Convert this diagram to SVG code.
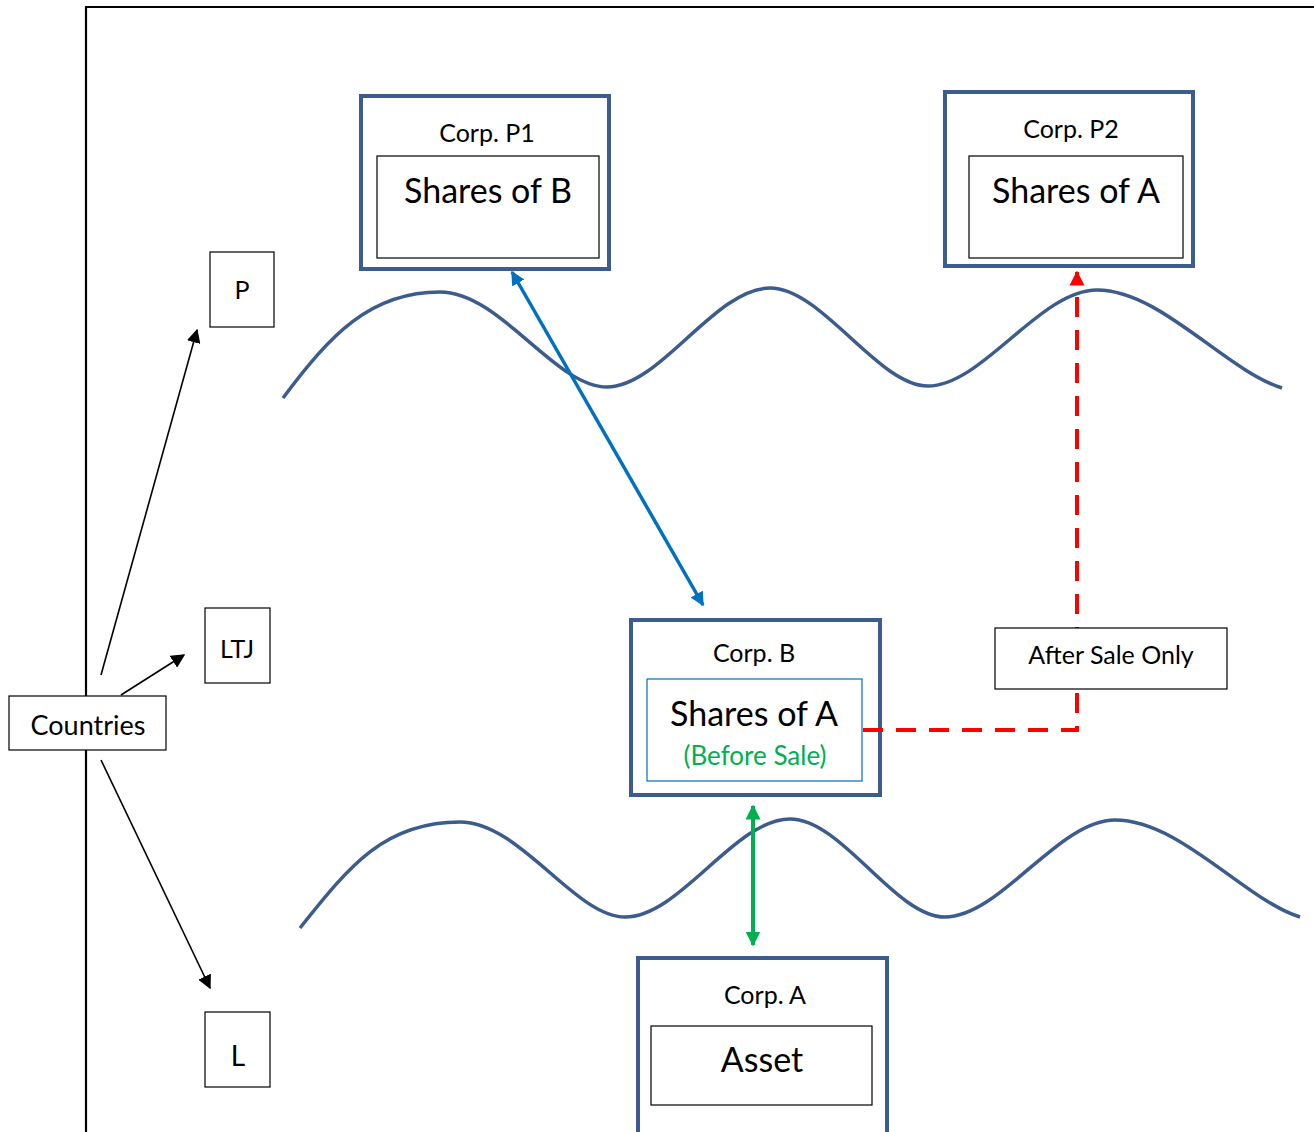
<svg xmlns="http://www.w3.org/2000/svg" width="1314" height="1132" viewBox="0 0 1314 1132">
<defs>
<style>
text{font-family:Lato,"Open Sans","Noto Sans",sans-serif;text-anchor:middle;fill:#000}
.corp{fill:#fff;stroke:#3B5C8C;stroke-width:4}
.inner{fill:#fff;stroke:#000;stroke-width:1.2}
.box{fill:#fff;stroke:#000;stroke-width:1.2}
.wave{fill:none;stroke:#3B5C8C;stroke-width:3.5}
.t22{font-size:25px}
.t32{font-size:34px}
</style>
<marker id="abk" viewBox="0 0 10 10" refX="9" refY="5" markerWidth="14" markerHeight="14" orient="auto-start-reverse" markerUnits="userSpaceOnUse"><path d="M0,0L10,5L0,10z" fill="#000"/></marker>
<marker id="abl" viewBox="0 0 10 10" refX="9" refY="5" markerWidth="14" markerHeight="14" orient="auto-start-reverse" markerUnits="userSpaceOnUse"><path d="M0,0L10,5L0,10z" fill="#0070C0"/></marker>
<marker id="agr" viewBox="0 0 10 10" refX="9" refY="5" markerWidth="15" markerHeight="15" orient="auto-start-reverse" markerUnits="userSpaceOnUse"><path d="M0,0L10,5L0,10z" fill="#00B050"/></marker>
<marker id="ard" viewBox="0 0 10 10" refX="9" refY="5" markerWidth="15" markerHeight="15" orient="auto-start-reverse" markerUnits="userSpaceOnUse"><path d="M0,0L10,5L0,10z" fill="#FF0000"/></marker>
</defs>
<rect width="1314" height="1132" fill="#fff"/>
<g id="frame"><path d="M86,1132V7H1314" fill="none" stroke="#000" stroke-width="2.2"/></g>
<g id="waves">
<path class="wave" d="M283,398 C330,335 370,292 440,292 C500,292 555,387 607,387 C660,387 715,288 770,288 C822,288 878,386 928,386 C982,386 1040,290 1097,290 C1160,290 1225,370 1282,388"/>
<path class="wave" d="M300,928 C350,865 385,822 460,822 C520,822 575,917 625,917 C680,917 735,819 790,819 C842,819 895,917 945,917 C1000,917 1058,820 1115,820 C1180,820 1245,900 1300,917"/>
</g>
<g id="corp-p1">
<rect class="corp" x="361" y="96" width="248" height="173"/>
<rect class="inner" x="377" y="156" width="222" height="102"/>
<text class="t22" x="487" y="142">Corp. P1</text>
<text class="t32" x="488" y="203">Shares of B</text>
</g>
<g id="corp-p2">
<rect class="corp" x="945" y="92" width="248" height="174"/>
<rect class="inner" x="969" y="156" width="214" height="102"/>
<text class="t22" x="1071" y="138">Corp. P2</text>
<text class="t32" x="1076" y="203">Shares of A</text>
</g>
<g id="corp-b">
<rect class="corp" x="631" y="620" width="249" height="175"/>
<rect x="647" y="679" width="215" height="102" fill="#fff" stroke="#0070C0" stroke-width="1.2"/>
<text class="t22" x="754" y="662">Corp. B</text>
<text class="t32" x="754" y="726">Shares of A</text>
<text x="755" y="765" font-size="26" style="fill:#00B050">(Before Sale)</text>
</g>
<g id="corp-a">
<rect class="corp" x="638" y="958" width="249" height="176"/>
<rect class="inner" x="651" y="1026" width="221" height="79"/>
<text class="t22" x="765" y="1004">Corp. A</text>
<text class="t32" x="762" y="1072">Asset</text>
</g>
<g id="connectors">
<line x1="101" y1="675" x2="197" y2="330" stroke="#000" stroke-width="1.6" marker-end="url(#abk)"/>
<line x1="121" y1="695" x2="184" y2="655" stroke="#000" stroke-width="1.6" marker-end="url(#abk)"/>
<line x1="101" y1="760" x2="210" y2="988" stroke="#000" stroke-width="1.6" marker-end="url(#abk)"/>
<line x1="512" y1="272" x2="703" y2="605" stroke="#0070C0" stroke-width="3.5" marker-start="url(#abl)" marker-end="url(#abl)"/>
<line x1="753" y1="806" x2="753" y2="945" stroke="#00B050" stroke-width="4" marker-start="url(#agr)" marker-end="url(#agr)"/>
<path d="M863,730H1077V272" fill="none" stroke="#FF0000" stroke-width="4" stroke-dasharray="20,13" marker-end="url(#ard)"/>
</g>
<g id="p"><rect class="box" x="210" y="252" width="64" height="75"/><text class="t22" x="242" y="299">P</text></g>
<g id="ltj"><rect class="box" x="205" y="608" width="65" height="75"/><text class="t22" x="237" y="658">LTJ</text></g>
<g id="l"><rect class="box" x="205" y="1012" width="65" height="75"/><text x="238" y="1066" font-size="28">L</text></g>
<g id="countries"><rect class="box" x="9" y="696" width="157" height="54"/><text x="88" y="735" font-size="27">Countries</text></g>
<g id="after-sale"><rect class="box" x="995" y="628" width="232" height="61"/><text x="1111" y="664" font-size="25">After Sale Only</text></g>
</svg>
